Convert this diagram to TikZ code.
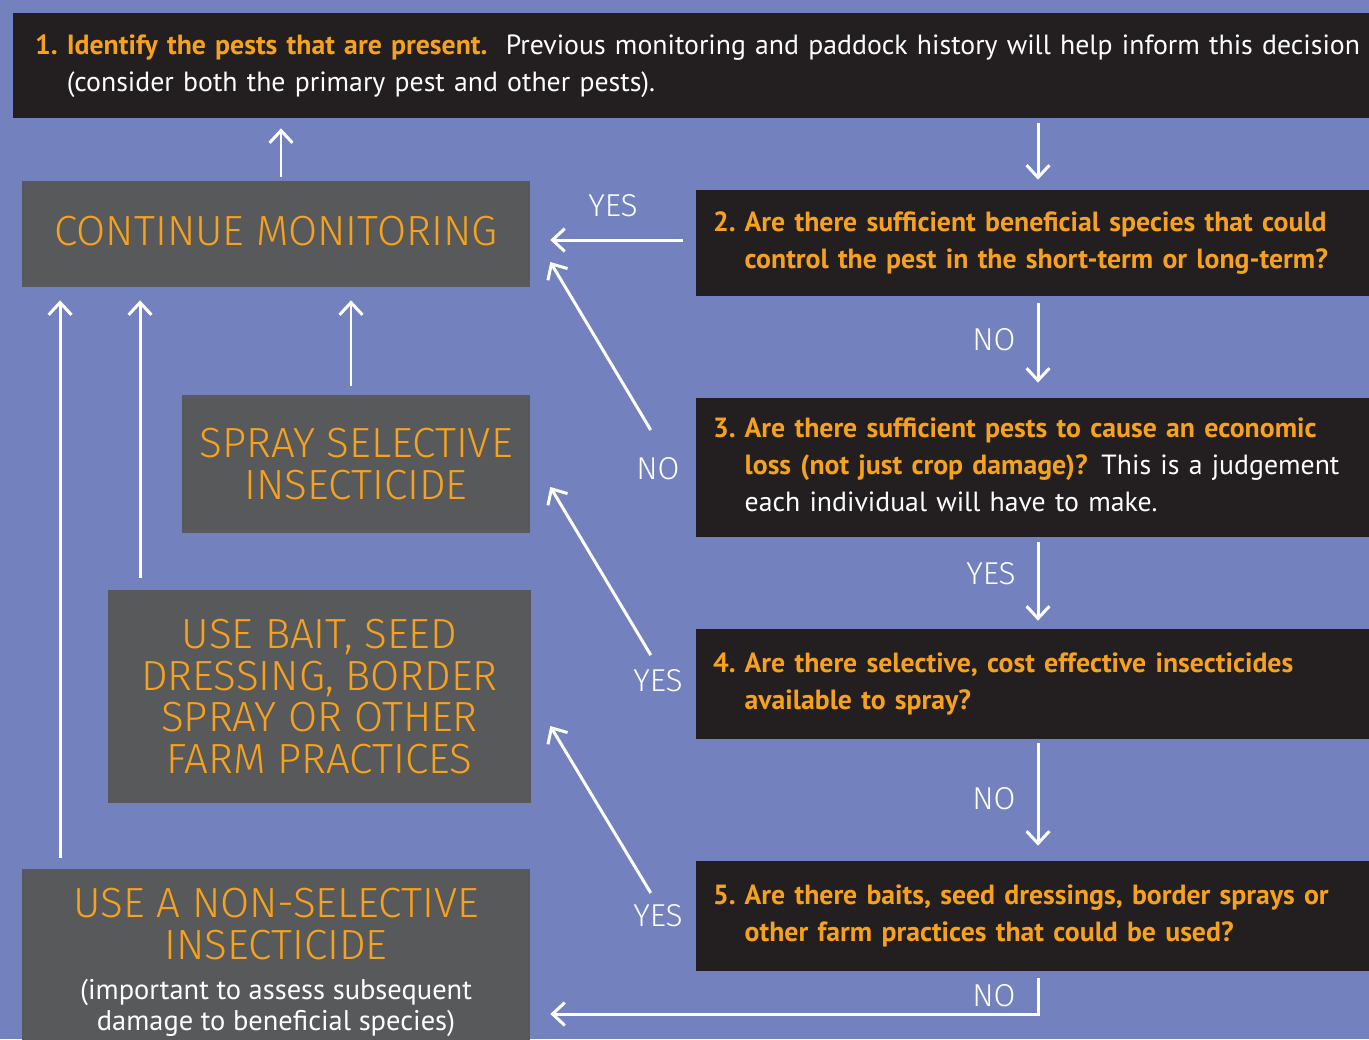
\documentclass[tikz,border=0pt]{standalone}
\usepackage{fontspec}
\setmainfont{PT Sans}
\newfontfamily\thinfont{Fira Sans}[UprightFont=* Light]
\usetikzlibrary{arrows.meta}
\definecolor{pagebg}{RGB}{115,130,190}
\definecolor{darkbg}{RGB}{35,31,32}
\definecolor{greybg}{RGB}{88,89,91}
\definecolor{pestorange}{RGB}{246,162,30}
\newcommand{\hl}[1]{{\color{pestorange}\bfseries #1}}
\newcommand{\numbered}[2]{\begin{tabular}{@{}l@{}l@{}}\makebox[18pt][l]{\hl{#1}} & #2\end{tabular}}
\newcommand{\note}[1]{{\color{white}\normalfont\fontsize{16.2}{18}\selectfont #1}}

\begin{document}
\begin{tikzpicture}[x=0.02cm,y=-0.02cm]
  \tikzstyle{darkbox}=[fill=darkbg, text=white, inner xsep=0.34cm, inner ysep=0pt, align=left, font=\fontsize{15.8}{21}\selectfont]
  \tikzstyle{greybox}=[fill=greybg, text=pestorange, align=center, inner sep=0pt, font=\thinfont\fontsize{24}{23.8}\selectfont]
  \tikzstyle{flow}=[draw=white, line width=1.7pt, -{Straight Barb[length=7pt,width=13pt]}]
  \tikzstyle{answer}=[text=white, inner sep=0pt, font=\thinfont\fontsize{18}{18}\selectfont]

  \useasboundingbox (0,0) rectangle (1369,1039);
  \clip (0,0) rectangle (1369,1039);
  \fill[pagebg] (0,0) rectangle (1369,1039);

  % question boxes on the right
  \node[darkbox, inner xsep=0.44cm, minimum height=2.1cm, text width=26.24cm] (step1) at (691,65.5)
    {\numbered{1.}{\hl{Identify the pests that are present.}\ \ Previous monitoring and paddock history will help inform this decision\\ & (consider both the primary pest and other pests).}};
  \node[darkbox, minimum height=2.12cm, text width=12.78cm] (q2) at (1032.5,243)
    {\numbered{2.}{\hl{Are there sufficient beneficial species that could}\\ & \hl{control the pest in the short-term or long-term?}}};
  \node[darkbox, minimum height=2.78cm, text width=12.78cm] (q3) at (1032.5,467.5)
    {\numbered{3.}{\hl{Are there sufficient pests to cause an economic}\\ & \hl{loss (not just crop damage)?} This is a judgement\\ & each individual will have to make.}};
  \node[darkbox, minimum height=2.2cm, text width=12.78cm] (q4) at (1032.5,684)
    {\numbered{4.}{\hl{Are there selective, cost effective insecticides}\\ & \hl{available to spray?}}};
  \node[darkbox, minimum height=2.2cm, text width=12.78cm] (q5) at (1032.5,916)
    {\numbered{5.}{\hl{Are there baits, seed dressings, border sprays or}\\ & \hl{other farm practices that could be used?}}};

  % actions on the left
  \node[greybox, minimum width=10.16cm, minimum height=2.12cm] (cont) at (276,234) {\raisebox{0.12cm}{CONTINUE MONITORING}};
  \node[greybox, minimum width=6.96cm, minimum height=2.76cm] (spray) at (356,464) {SPRAY SELECTIVE\\INSECTICIDE};
  \node[greybox, minimum width=8.46cm, minimum height=4.26cm] (bait) at (319.5,696.5) {USE BAIT, SEED\\DRESSING, BORDER\\SPRAY OR OTHER\\FARM PRACTICES};
  \node[greybox, minimum width=10.16cm, minimum height=3.74cm] (nonsel) at (276,962.5)
    {USE A NON-SELECTIVE\\INSECTICIDE\\[-1pt]\note{(important to assess subsequent}\\[-5.8pt]\note{damage to beneficial species)}};

  % flow down the questions
  \draw[flow, shorten <=0.1cm, shorten >=0.2cm] ([xshift=0.11cm]q2.north |- step1.south) -- ([xshift=0.11cm]q2.north);
  \draw[flow, shorten <=0.14cm, shorten >=0.3cm] ([xshift=0.11cm]q2.south) -- ([xshift=0.11cm]q3.north);
  \draw[flow, shorten <=0.1cm, shorten >=0.16cm] ([xshift=0.11cm]q3.south) -- ([xshift=0.11cm]q4.north);
  \draw[flow, shorten <=0.08cm, shorten >=0.3cm] ([xshift=0.11cm]q4.south) -- ([xshift=0.11cm]q5.north);
  \draw[flow, shorten <=0.14cm, shorten >=0.4cm] ([xshift=0.11cm]q5.south) |- ([yshift=-1.03cm]nonsel.east);

  % answers back to the left
  \draw[flow, shorten <=0.26cm, shorten >=0.4cm] ([yshift=0.06cm]q2.west) -- ([yshift=0.06cm]q2.west -| cont.east);
  \draw[flow] ([xshift=-0.9cm,yshift=0.75cm]q3.west) -- ([xshift=0.4cm,yshift=-0.56cm]cont.east);
  \draw[flow] ([xshift=-0.9cm,yshift=0.58cm]q4.west) -- ([xshift=0.4cm,yshift=-0.46cm]spray.east);
  \draw[flow] ([xshift=-0.9cm,yshift=0.46cm]q5.west) -- ([xshift=0.38cm,yshift=-0.59cm]bait.east);

  % back to monitoring
  \draw[flow, shorten <=0.08cm, shorten >=0.2cm] ([xshift=0.1cm]cont.north) -- ([xshift=0.1cm]cont.north |- step1.south);
  \draw[flow, shorten <=0.18cm, shorten >=0.26cm] ([xshift=-0.1cm]spray.north) -- ([xshift=-0.1cm]spray.north |- cont.south);
  \draw[flow, shorten <=0.24cm, shorten >=0.26cm] ([xshift=-3.59cm]bait.north) -- ([xshift=-3.59cm]bait.north |- cont.south);
  \draw[flow, shorten <=0.22cm, shorten >=0.26cm] ([xshift=-4.32cm]nonsel.north) -- ([xshift=-4.32cm]nonsel.north |- cont.south);

  % yes / no labels
  \node[answer] (a2) at (613,206) {YES};
  \node[answer] (b2) at (994,340) {NO};
  \node[answer] (a3) at (658,469) {NO};
  \node[answer] (b3) at (991,574) {YES};
  \node[answer] (a4) at (658,681) {YES};
  \node[answer] (b4) at (994,799) {NO};
  \node[answer] (a5) at (658,916) {YES};
  \node[answer] (b5) at (994,996) {NO};
\end{tikzpicture}
\end{document}
